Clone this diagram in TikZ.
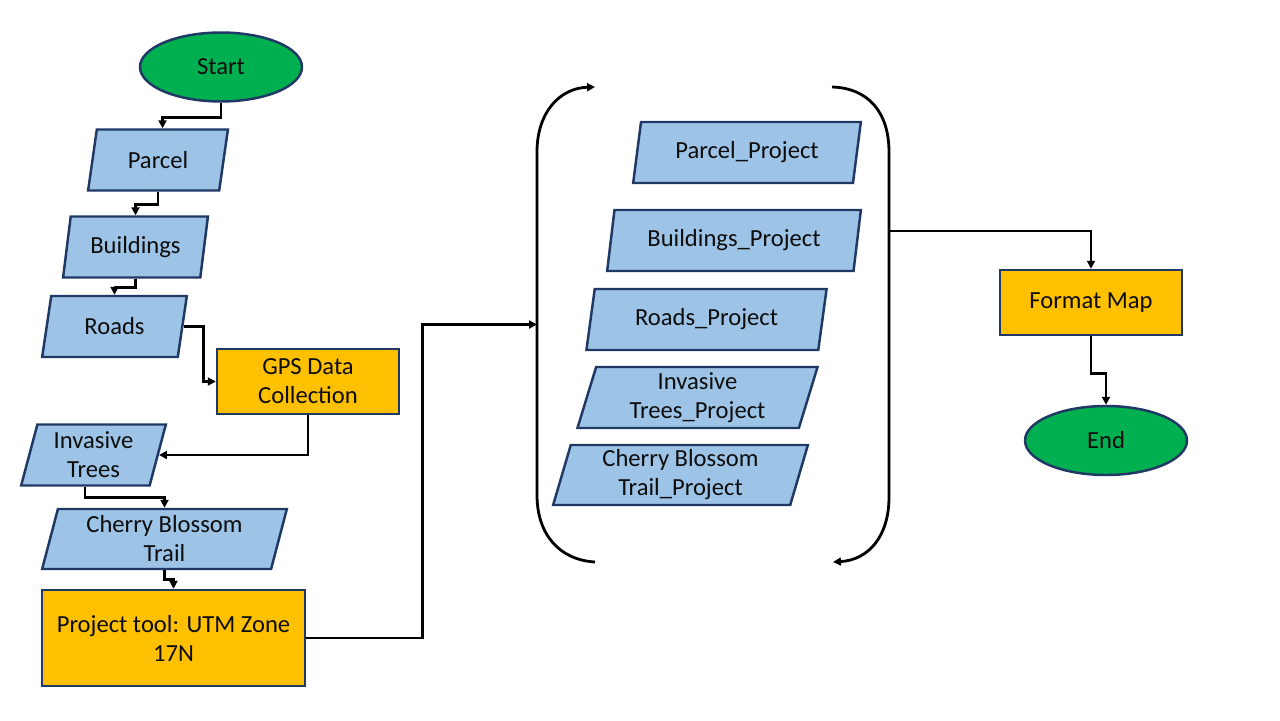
\documentclass[tikz,border=0pt]{standalone}
\usepackage{fontspec}
\setmainfont{Carlito}
\usetikzlibrary{shapes.geometric,arrows.meta,positioning,calc}
\definecolor{inputblue}{HTML}{9DC3E6}
\definecolor{toolorange}{HTML}{FFC000}
\definecolor{termgreen}{HTML}{00B050}
\definecolor{edgenavy}{HTML}{1F3864}

\begin{document}
\begin{tikzpicture}[
    x=0.02cm, y=-0.02cm,
    every node/.style={font=\fontsize{14}{16.5}\selectfont, text=black!95, align=center},
    terminal/.style={ellipse, draw=edgenavy, line width=1.4pt, fill=termgreen,
                     minimum width=3.24cm, minimum height=1.38cm, inner sep=0pt},
    data/.style={trapezium, trapezium left angle=76, trapezium right angle=104,
                 trapezium stretches=true, draw=edgenavy, line width=1.4pt,
                 fill=inputblue, minimum height=1.22cm, inner sep=0pt},
    tool/.style={rectangle, draw=edgenavy, line width=1.4pt, fill=toolorange,
                 minimum width=3.64cm, minimum height=1.30cm, inner sep=0pt},
    arrow/.style={-{Triangle[length=4.5pt,width=4.5pt]}, line width=1.6pt, black},
]
\useasboundingbox (0,0) rectangle (1280,720);
\node[terminal] (start) at (221,67) {Start};
\node[data, minimum width=2.80cm] (parcel) at (158,160) {Parcel};
\node[data, minimum width=2.90cm] (buildings) at (135.5,247) {Buildings};
\node[data, minimum width=2.90cm] (roads) at (114.5,326.5) {Roads};
\node[tool] (gps) at (308,381.5) {GPS Data\\Collection};
\node[data, minimum width=2.90cm] (invasive) at (93.5,455) {Invasive\\Trees};
\node[data, minimum width=4.90cm, minimum height=1.20cm] (cherry) at (164.5,539) {Cherry Blossom\\Trail};
\node[tool, minimum width=5.26cm, minimum height=1.92cm] (project) at (173.5,638) {Project tool: UTM Zone\\17N};
\node[data, minimum width=4.56cm] (parcelP) at (747,152.5) {Parcel\_Project};
\node[data, minimum width=5.08cm] (buildingsP) at (734,240.5) {Buildings\_Project};
\node[data, minimum width=4.82cm] (roadsP) at (706.5,319.5) {Roads\_Project};
\node[data, minimum width=4.82cm] (invasiveP) at (697.5,397.5) {Invasive\\Trees\_Project};
\node[data, minimum width=5.10cm, minimum height=1.20cm] (cherryP) at (680.5,475) {Cherry Blossom\\Trail\_Project};
\node[tool] (fmt) at (1091,302.5) {Format Map};
\node[terminal] (end) at (1106,440.5) {End};
\coordinate (cycleIn) at (537,324.5);
\coordinate (cycleOut) at (889,231);
\draw[arrow] (595,562) .. controls (560,560) and (537,535) .. (537,495) -- (537,152)
    .. controls (537,112) and (560,88) .. (595,87);
\draw[arrow] (832,87) .. controls (868,88) and (889,112) .. (889,152) -- (889,497)
    .. controls (889,537) and (868,560) .. (833,562);
\draw[arrow] (start.south) -- ++(0,15) -| (parcel.top side);
\draw[arrow] (parcel.south) -- ++(0,13) -| (buildings.north);
\draw[arrow] (buildings.south) -- ++(0,9) -| (roads.north);
\draw[arrow] (roads.right side) -- ++(20,0) |- (gps.west);
\draw[arrow] (gps.south) |- (invasive.right side);
\draw[arrow] (invasive.bottom side) -- ++(0,11) -| (cherry.north);
\draw[arrow] (cherry.south) -- ++(0,9) -| (project.north);
\draw[arrow] (project.east) -- ++(116,0) |- (cycleIn);
\draw[arrow] (cycleOut) -| (fmt.north);
\draw[arrow] (fmt.south) -- ++(0,37) -| (end.north);
\end{tikzpicture}
\end{document}
